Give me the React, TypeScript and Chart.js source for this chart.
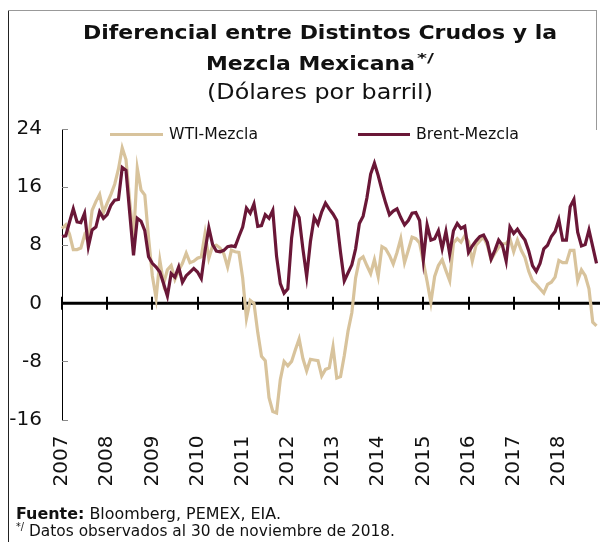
import React, { useEffect, useLayoutEffect, useRef } from 'react';
import { Chart, registerables } from 'chart.js';

Chart.register(...registerables);

const FONT = '"DejaVu Sans", sans-serif';

const years = ['2007', '2008', '2009', '2010', '2011', '2012', '2013', '2014', '2015', '2016', '2017', '2018'];
const monthsInLastYear = 11;
const yTickValues = [-16, -8, 0, 8, 16, 24];

// Diferencial WTI - Mezcla (USD/barril), mensual ene-2007 a nov-2018
const wtiMezcla = [
  10.3, 10.8, 9.5, 7.4, 7.4, 7.6, 9.4, 8.5, 12.8, 14.0, 15.0, 12.5,
  13.8, 15.0, 16.4, 18.5, 21.4, 19.8, 14.0, 8.8, 18.6, 15.6, 14.9, 9.0,
  3.8, 0.7, 5.9, 2.7, 4.6, 5.2, 3.3, 4.5, 5.5, 6.9, 5.6, 5.8,
  6.2, 6.4, 9.6, 6.2, 7.9, 8.0, 7.6, 6.8, 5.0, 7.3, 7.1, 7.0,
  3.5, -2.1, 0.4, 0.0, -4.0, -7.3, -7.9, -13.0, -14.9, -15.1, -10.5, -8.0,
  -8.6, -8.0, -6.4, -4.9, -7.6, -9.3, -7.7, -7.8, -7.9, -10.0, -9.1, -8.9,
  -6.0, -10.3, -10.1, -7.2, -3.8, -1.3, 3.5, 6.0, 6.4, 5.2, 4.1, 6.0,
  3.7, 7.8, 7.5, 6.6, 5.4, 7.0, 8.9, 5.6, 7.3, 9.1, 8.9, 8.3,
  5.7, 3.0, 0.1, 3.7, 5.2, 6.0, 4.5, 3.1, 8.3, 8.9, 8.4, 9.3,
  8.5, 5.8, 8.0, 8.6, 9.1, 8.0, 6.0, 6.9, 7.7, 8.2, 8.2, 8.9,
  7.1, 8.7, 7.3, 6.3, 4.4, 3.1, 2.6, 2.0, 1.4, 2.6, 2.9, 3.6,
  5.9, 5.6, 5.6, 7.3, 7.3, 3.1, 4.6, 3.8, 2.0, -2.6, -3.1,
];

// Diferencial Brent - Mezcla (USD/barril), mensual ene-2007 a nov-2018
const brentMezcla = [
  9.2, 9.3, 11.2, 13.0, 11.2, 11.1, 12.4, 7.8, 10.1, 10.5, 12.6, 11.7,
  12.2, 13.5, 14.2, 14.3, 18.7, 18.3, 12.4, 6.6, 11.7, 11.3, 10.0, 6.4,
  5.5, 5.0, 4.3, 2.7, 1.0, 4.1, 3.6, 5.0, 2.9, 3.8, 4.3, 4.8,
  4.3, 3.4, 7.2, 10.4, 8.1, 7.2, 7.1, 7.3, 7.8, 7.9, 7.8, 9.2,
  10.5, 13.1, 12.4, 13.7, 10.6, 10.7, 12.2, 11.7, 12.8, 6.5, 2.7, 1.4,
  2.0, 9.0, 12.8, 11.8, 7.5, 3.7, 8.5, 11.8, 10.9, 12.6, 13.8, 13.0,
  12.3, 11.4, 7.0, 3.1, 4.2, 5.3, 7.5, 11.0, 12.0, 14.5, 17.8, 19.3,
  17.6, 15.6, 13.8, 12.2, 12.7, 13.0, 11.8, 10.8, 11.4, 12.4, 12.5, 11.4,
  6.0, 10.8, 8.7, 8.9, 10.0, 7.5, 9.9, 6.8, 10.0, 11.0, 10.3, 10.6,
  7.0, 7.9, 8.6, 9.2, 9.4, 8.4, 6.1, 7.3, 8.7, 8.0, 5.8, 10.5,
  9.6, 10.2, 9.4, 8.7, 7.2, 5.2, 4.4, 5.5, 7.5, 8.0, 9.2, 9.9,
  11.5, 8.7, 8.7, 13.3, 14.3, 9.8, 7.9, 8.1, 10.1, 7.8, 5.5,
];

const categories: string[] = [];
years.forEach((yr, yi) => {
  const n = yi === years.length - 1 ? monthsInLastYear : 12;
  for (let m = 1; m <= n; m++) categories.push(`${yr}-${String(m).padStart(2, '0')}`);
});

const WTI_COLOR = '#D8C39C';
const BRENT_COLOR = '#6A1737';

const axisDecor = {
  id: 'axisDecor',
  beforeDatasetsDraw(chart: any) {
    const { ctx, chartArea, scales } = chart;
    const x = scales.x;
    const y = scales.y;
    const y0 = y.getPixelForValue(0);
    ctx.save();
    ctx.strokeStyle = '#8a8a8a';
    ctx.lineWidth = 1;
    yTickValues.forEach((v) => {
      const py = Math.round(y.getPixelForValue(v)) + 0.5;
      ctx.beginPath();
      ctx.moveTo(chartArea.left, py);
      ctx.lineTo(chartArea.left + 6, py);
      ctx.stroke();
    });
    ctx.strokeStyle = '#000';
    ctx.lineWidth = 3;
    ctx.beginPath();
    ctx.moveTo(chartArea.left, y0);
    ctx.lineTo(chart.width, y0);
    ctx.stroke();
    ctx.lineWidth = 2;
    categories.forEach((c, i) => {
      if (!c.endsWith('-01')) return;
      const px = Math.round(x.getPixelForValue(i));
      ctx.beginPath();
      ctx.moveTo(px, y0 - 6.5);
      ctx.lineTo(px, y0 + 6.5);
      ctx.stroke();
    });
    ctx.restore();
  },
};

function FitText(props: { x: number; baseline: number; width: number; size: number; weight?: number; center?: boolean; children: React.ReactNode }) {
  const { x, baseline, width, size, weight = 400, center = false, children } = props;
  const ref = useRef<HTMLSpanElement>(null);
  useLayoutEffect(() => {
    const el = ref.current;
    if (!el) return;
    el.style.transform = 'none';
    const w = el.getBoundingClientRect().width;
    if (w > 0) el.style.transform = `scaleX(${width / w})`;
  }, [width, size]);
  const left = center ? x - width / 2 : x;
  return (
    <span
      ref={ref}
      style={{
        position: 'absolute',
        left,
        top: baseline - 0.846 * size,
        fontSize: size,
        fontWeight: weight,
        lineHeight: 1,
        whiteSpace: 'nowrap',
        transformOrigin: '0 0',
        fontFamily: FONT,
        color: '#111',
      }}
    >
      {children}
    </span>
  );
}

export default function App() {
  const canvasRef = useRef<HTMLCanvasElement>(null);

  useEffect(() => {
    if (!canvasRef.current) return;
    const chart = new Chart(canvasRef.current, {
      type: 'line',
      data: {
        labels: categories,
        datasets: [
          {
            label: 'WTI-Mezcla',
            data: wtiMezcla,
            borderColor: WTI_COLOR,
            backgroundColor: WTI_COLOR,
            borderWidth: 3.2,
            pointRadius: 0,
            tension: 0,
            order: 1,
          },
          {
            label: 'Brent-Mezcla',
            data: brentMezcla,
            borderColor: BRENT_COLOR,
            backgroundColor: BRENT_COLOR,
            borderWidth: 3.2,
            pointRadius: 0,
            tension: 0,
            order: 0,
          },
        ],
      },
      options: {
        animation: false,
        responsive: false,
        maintainAspectRatio: false,
        devicePixelRatio: 1,
        layout: { autoPadding: false, padding: { left: 0, top: 129, right: 3.5, bottom: 40.5 } },
        plugins: { legend: { display: false }, tooltip: { enabled: false }, title: { display: false } },
        scales: {
          x: {
            type: 'category',
            grid: { display: false, drawTicks: false },
            border: { display: false },
            afterFit: (s: any) => {
              s.height = 82;
              s.paddingLeft = 0;
              s.paddingRight = 0;
            },
            ticks: {
              autoSkip: false,
              maxRotation: 90,
              minRotation: 90,
              padding: 16,
              color: '#111',
              font: { family: FONT, size: 20 },
              callback: (_v: any, i: number) => {
                const c = categories[i];
                return c.endsWith('-01') ? c.slice(0, 4) : '';
              },
            },
          },
          y: {
            min: -16,
            max: 24,
            grid: { display: false, drawTicks: false },
            border: { display: true, color: '#000', width: 1 },
            afterFit: (s: any) => {
              s.width = 62;
              s.paddingTop = 0;
              s.paddingBottom = 0;
            },
            ticks: {
              stepSize: 8,
              padding: 20,
              color: '#111',
              font: { family: FONT, size: 20 },
            },
          },
        },
      },
      plugins: [axisDecor],
    } as any);
    return () => chart.destroy();
  }, []);

  return (
    <div style={{ position: 'fixed', left: 0, top: 0, width: 600, height: 542, background: '#fff', overflow: 'hidden' }}>
      <canvas ref={canvasRef} width={600} height={542} style={{ position: 'absolute', left: 0, top: 0, width: 600, height: 542 }} />
      {/* frame */}
      <div style={{ position: 'absolute', left: 8, top: 10, width: 1, height: 532, background: '#222' }} />
      <div style={{ position: 'absolute', left: 8, top: 10, width: 589, height: 1, background: '#999' }} />
      <div style={{ position: 'absolute', left: 596, top: 10, width: 1, height: 120, background: '#999' }} />
      {/* title */}
      <FitText x={319.5} baseline={39.5} width={474} size={19} weight={700} center>
        Diferencial entre Distintos Crudos y la
      </FitText>
      <FitText x={206} baseline={70.5} width={209} size={19} weight={700}>
        Mezcla Mexicana
      </FitText>
      <FitText x={417} baseline={62} width={17} size={12} weight={700}>
        */
      </FitText>
      <FitText x={320} baseline={99.5} width={226} size={21} weight={400} center>
        (Dólares por barril)
      </FitText>
      {/* legend */}
      <div style={{ position: 'absolute', left: 110, top: 132.5, width: 53, height: 3.5, background: WTI_COLOR }} />
      <FitText x={169} baseline={140} width={89} size={16}>WTI-Mezcla</FitText>
      <div style={{ position: 'absolute', left: 358, top: 132.5, width: 52, height: 3.5, background: BRENT_COLOR }} />
      <FitText x={416} baseline={140} width={103} size={16}>Brent-Mezcla</FitText>
      {/* footer */}
      <FitText x={16} baseline={520} width={265} size={15.5}>
        <b>Fuente:</b> Bloomberg, PEMEX, EIA.
      </FitText>
      <FitText x={16} baseline={530} width={8} size={10}>*/</FitText>
      <FitText x={29} baseline={537.5} width={366} size={15.5}>
        Datos observados al 30 de noviembre de 2018.
      </FitText>
    </div>
  );
}
